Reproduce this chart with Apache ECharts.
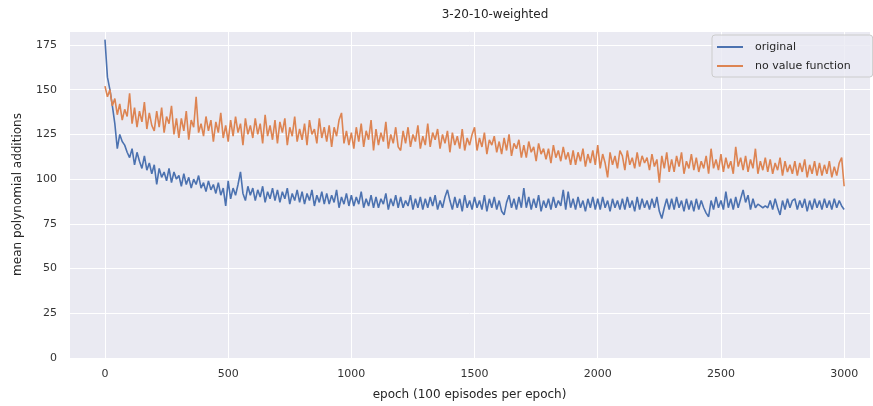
<!DOCTYPE html>
<html>
<head>
<meta charset="utf-8">
<script src="https://cdn.jsdelivr.net/npm/echarts@6/dist/echarts.min.js"></script>
<style>
  html, body { margin: 0; padding: 0; background: #fff; }
  #chart { width: 873px; height: 406px; }
</style>
</head>
<body>
<div id="chart"></div>
<script>
// one sample every 10 epochs, epoch 0 .. 3000
const EPOCH_STEP = 10;

// "original" (blue), one row = 100 epochs
const original = [
  178,157,150,141,131,117,125,121,119,115,
  112,117,108,115,110,106,113,105,109,103,
  108,97,106,101,104,99,106,98,104,100,
  102,96,103,97,101,95,100,97,102,95,
  98,93,99,94,97,92,98,91,95,85,
  99,89,95,91,97,104,92,88,96,91,
  95,88,94,90,96,87,93,89,95,88,
  94,87,93,89,95,86,92,88,94,87,
  93,86,92,88,94,85,91,87,93,86,
  92,86,91,87,94,84,90,86,92,85,
  91,85,90,86,93,84,89,85,91,84,
  90,84,89,86,92,83,89,85,91,84,
  90,84,88,85,91,83,89,84,90,83,
  89,84,90,85,91,83,88,84,90,94,
  88,83,90,84,89,82,91,84,88,83,
  90,84,88,83,91,82,89,84,90,83,
  88,82,80,87,91,84,89,83,90,84,
  95,84,90,83,89,84,91,82,88,84,
  89,83,90,84,88,85,94,83,93,84,
  89,83,90,84,88,82,89,84,90,83,
  89,83,90,84,88,82,89,84,88,83,
  89,83,90,84,88,82,90,83,89,84,
  88,83,89,84,90,82,78,84,89,83,
  89,83,90,84,88,82,89,83,88,82,
  89,83,88,84,81,79,88,83,90,84,
  88,83,93,84,89,83,90,84,89,94,
  87,91,83,89,84,86,85,84,85,84,
  88,83,89,84,80,88,83,89,84,88,
  89,83,88,84,89,82,88,83,89,84,
  88,83,89,84,88,83,89,84,88,85,
  83
];

// "no value function" (orange)
const noValueFunction = [
  152,146,150,141,145,136,142,133,139,135,
  148,131,140,129,138,132,143,128,137,130,
  127,138,129,140,126,135,131,141,125,134,
  123,134,127,138,122,133,129,146,126,131,
  124,135,127,133,121,132,126,137,123,130,
  121,133,124,135,126,131,119,134,125,130,
  123,134,125,131,120,136,124,130,122,133,
  120,132,126,134,119,129,124,135,121,128,
  122,131,119,133,125,128,120,134,123,129,
  121,130,118,129,124,133,137,120,127,119,
  126,117,129,121,131,118,127,122,133,116,
  128,119,126,121,132,117,125,120,129,118,
  116,127,120,129,118,125,121,130,117,124,
  119,131,118,126,122,128,117,125,120,127,
  115,126,119,124,117,128,116,123,119,125,
  129,116,123,118,126,114,122,119,124,115,
  121,114,123,116,125,113,120,117,122,112,
  119,112,121,115,118,110,120,114,117,111,
  117,109,119,112,116,110,118,111,115,108,
  116,108,115,110,117,107,114,109,116,108,
  119,106,114,109,101,115,108,113,106,116,
  113,105,116,108,112,106,115,107,113,109,
  112,105,114,107,111,98,113,106,115,104,
  111,104,113,107,115,103,110,106,114,105,
  112,104,110,106,113,103,117,106,111,105,
  114,104,112,106,110,103,118,107,112,105,
  113,104,111,106,117,103,110,105,112,104,
  111,103,109,105,112,102,110,104,108,103,
  110,102,109,104,111,101,108,103,110,102,
  109,102,108,103,110,101,107,102,109,112,
  96
];

const seriesNames = ['original', 'no value function'];
const seriesColors = ['#4c72b0', '#dd8452'];

const FONT = 'DejaVu Sans';

function pairs(values) {
  return values.map((v, i) => [i * EPOCH_STEP, v]);
}

const chart = echarts.init(document.getElementById('chart'));

chart.setOption({
  animation: false,
  backgroundColor: '#ffffff',
  title: {
    text: '3-20-10-weighted',
    left: 490,
    top: 4,
    textAlign: 'center',
    textStyle: { fontFamily: FONT, fontSize: 12, fontWeight: 'normal', color: '#262626' }
  },
  legend: {
    orient: 'vertical',
    left: 712,
    top: 35,
    padding: [6, 22, 5, 5],
    itemGap: 7,
    itemWidth: 26,
    itemHeight: 2,
    icon: 'rect',
    backgroundColor: 'rgba(234,234,242,0.8)',
    borderColor: '#cccccc',
    borderWidth: 1,
    borderRadius: 3,
    textStyle: {
      fontFamily: FONT, fontSize: 11, color: '#262626',
      padding: [0, 0, 0, 7], lineHeight: 12, height: 12
    },
    data: seriesNames
  },
  grid: {
    left: 69,
    right: 0,
    top: 31,
    bottom: 46,
    show: true,
    backgroundColor: '#eaeaf2',
    borderWidth: 0
  },
  xAxis: {
    type: 'value',
    min: -146,
    max: 3105,
    splitNumber: 7,
    name: 'epoch (100 episodes per epoch)',
    nameLocation: 'middle',
    nameGap: 31,
    nameTextStyle: { fontFamily: FONT, fontSize: 12, color: '#262626' },
    axisLine: { show: false },
    axisTick: { show: false },
    axisLabel: {
      margin: 11,
      fontFamily: FONT,
      fontSize: 11,
      color: '#333',
      formatter: v => (v % 500 === 0 && v >= 0 && v <= 3000 ? String(v) : '')
    },
    splitLine: { lineStyle: { color: '#ffffff', width: 1 } }
  },
  yAxis: {
    type: 'value',
    min: 0,
    max: 182.8,
    interval: 25,
    name: 'mean polynomial additions',
    nameLocation: 'middle',
    nameGap: 45,
    nameTextStyle: { fontFamily: FONT, fontSize: 12, color: '#262626' },
    axisLine: { show: false },
    axisTick: { show: false },
    axisLabel: {
      margin: 12,
      fontFamily: FONT,
      fontSize: 11,
      color: '#333',
      formatter: v => (v % 25 === 0 ? String(v) : '')
    },
    splitLine: { lineStyle: { color: '#ffffff', width: 1 } }
  },
  series: [
    {
      name: seriesNames[0],
      type: 'line',
      symbol: 'none',
      data: pairs(original),
      color: seriesColors[0],
      lineStyle: { width: 1.6, color: seriesColors[0] }
    },
    {
      name: seriesNames[1],
      type: 'line',
      symbol: 'none',
      data: pairs(noValueFunction),
      color: seriesColors[1],
      lineStyle: { width: 1.6, color: seriesColors[1] }
    }
  ]
});
</script>
</body>
</html>
